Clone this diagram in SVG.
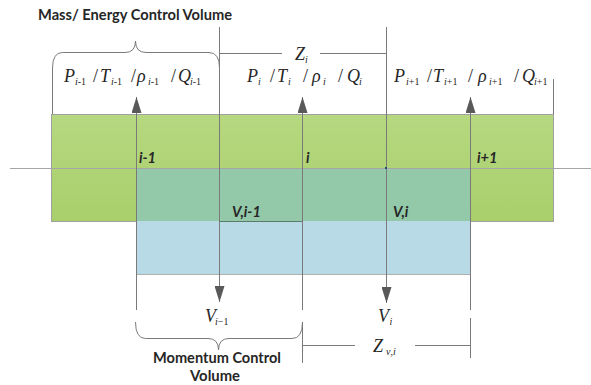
<svg xmlns="http://www.w3.org/2000/svg" width="591" height="385" viewBox="0 0 591 385">
<style>
.ln{stroke:#7a7a7a;stroke-width:1;fill:none}
.ax{stroke:#a6a6a6;stroke-width:1;fill:none}
.ttl{font-family:Lato,"Liberation Sans",Arial,sans-serif;font-weight:bold;font-size:14.5px;fill:#262626}
.lbl{font-family:Lato,"Liberation Sans",Arial,sans-serif;font-weight:bold;font-style:italic;font-size:14.5px;fill:#262626}
.m{font-family:"Liberation Serif","Times New Roman",serif;font-style:italic;font-size:18px;fill:#262626}
.s{font-style:italic;font-size:10px}
.n{font-style:normal}
</style>
<defs>
<linearGradient id="gr" x1="0" y1="0" x2="0" y2="1">
<stop offset="0" stop-color="#b6d880"/>
<stop offset="1" stop-color="#a8cf6b"/>
</linearGradient>
<marker id="ah" viewBox="0 0 16 10" refX="16" refY="5" markerWidth="16" markerHeight="10" markerUnits="userSpaceOnUse" orient="auto">
<path d="M0,0 L16,5 L0,10 Z" fill="#595959"/>
</marker>
</defs>
<g id="title"><text class="ttl" x="38" y="20" textLength="194" lengthAdjust="spacingAndGlyphs">Mass/ Energy Control Volume</text></g>
<g id="mass-cv">
<rect x="51.5" y="114.5" width="502" height="107" fill="url(#gr)" stroke="#a0a0a0" stroke-width="1"/>
</g>
<g id="momentum-cv">
<rect x="136.5" y="168.5" width="334" height="106" fill="#b7dae6" stroke="#b0b0b0" stroke-width="1"/>
<rect x="137" y="169" width="333" height="52" fill="#93c9a9"/>
</g>
<g id="connectors">
<line class="ax" x1="10" y1="168.5" x2="591" y2="168.5"/>
<line class="ln" x1="52.5" y1="68" x2="52.5" y2="114"/>
<line class="ln" x1="219.5" y1="27" x2="219.5" y2="302" marker-end="url(#ah)"/>
<line class="ln" x1="386.5" y1="27" x2="386.5" y2="303" marker-end="url(#ah)"/>
<line class="ln" x1="553.5" y1="79" x2="553.5" y2="114"/>
<line class="ln" x1="136.5" y1="310" x2="136.5" y2="97" marker-end="url(#ah)"/>
<line class="ln" x1="302.5" y1="310" x2="302.5" y2="97" marker-end="url(#ah)"/>
<line class="ln" x1="470.5" y1="310" x2="470.5" y2="97" marker-end="url(#ah)"/>
<line class="ln" x1="302.5" y1="322" x2="302.5" y2="363"/>
<line class="ln" x1="470.5" y1="318" x2="470.5" y2="358"/>
<line class="ln" x1="219" y1="53.5" x2="282" y2="53.5"/>
<line class="ln" x1="320" y1="53.5" x2="386" y2="53.5"/>
<line class="ln" x1="302" y1="345.5" x2="355" y2="345.5"/>
<line class="ln" x1="415" y1="345.5" x2="470" y2="345.5"/>
<line x1="219" y1="221.5" x2="302" y2="221.5" stroke="#5a7a6a" stroke-width="1"/>
<path class="ln" d="M52.5,68 Q52.5,52.5 62.5,52.5 L125,52.5 Q135.5,52.5 135.5,41 Q135.5,52.5 146,52.5 L209,52.5 Q219.5,52.5 219.5,68"/>
<path class="ln" d="M135.5,322 Q135.5,338.5 145.5,338.5 L208,338.5 Q218.5,338.5 218.5,350 Q218.5,338.5 229,338.5 L292,338.5 Q302.5,338.5 302.5,322"/>
<rect x="385" y="167" width="2" height="2" fill="#1f4e79"/>
</g>
<g id="labels">
<text class="lbl" x="139" y="163">i-1</text>
<text class="lbl" x="306" y="163">i</text>
<text class="lbl" x="477" y="163">i+1</text>
<text class="lbl" x="232" y="217">V,i-1</text>
<text class="lbl" x="393" y="217">V,i</text>
</g>
<g id="state-left">
<text class="m" y="82"><tspan x="64">P</tspan><tspan class="s" x="75" y="85">i<tspan class="n">-1</tspan></tspan><tspan class="n" x="93" y="82">/</tspan><tspan x="100">T</tspan><tspan class="s" x="111" y="85">i<tspan class="n">-1</tspan></tspan><tspan class="n" x="131" y="82">/</tspan><tspan x="137">ρ</tspan><tspan class="s" x="148" y="85">i<tspan class="n">-1</tspan></tspan><tspan class="n" x="171" y="82">/</tspan><tspan x="178">Q</tspan><tspan class="s" x="190" y="85">i<tspan class="n">-1</tspan></tspan></text>
</g>
<g id="state-mid">
<text class="m" y="82"><tspan x="247">P</tspan><tspan class="s" x="258" y="85">i</tspan><tspan class="n" x="270" y="82">/</tspan><tspan x="277">T</tspan><tspan class="s" x="288" y="85">i</tspan><tspan class="n" x="303" y="82">/</tspan><tspan x="312">ρ</tspan><tspan class="s" x="323" y="85">i</tspan><tspan class="n" x="338" y="82">/</tspan><tspan x="347">Q</tspan><tspan class="s" x="359" y="85">i</tspan></text>
</g>
<g id="state-right">
<text class="m" y="82"><tspan x="394">P</tspan><tspan class="s" x="406" y="85">i<tspan class="n">+1</tspan></tspan><tspan class="n" x="427" y="82">/</tspan><tspan x="433">T</tspan><tspan class="s" x="444" y="85">i<tspan class="n">+1</tspan></tspan><tspan class="n" x="468" y="82">/</tspan><tspan x="478">ρ</tspan><tspan class="s" x="489" y="85">i<tspan class="n">+1</tspan></tspan><tspan class="n" x="514" y="82">/</tspan><tspan x="522">Q</tspan><tspan class="s" x="534" y="85">i<tspan class="n">+1</tspan></tspan></text>
</g>
<g id="dims">
<text class="m" font-size="15" y="60"><tspan x="295">Z</tspan><tspan class="s" font-size="9" x="305" y="63">i</tspan></text>
<text class="m" font-size="17" y="352"><tspan x="373">Z</tspan><tspan class="s" font-size="9" x="386" y="355">v<tspan class="n">,</tspan>i</tspan></text>
<text class="m" font-size="13" y="322"><tspan x="205">V</tspan><tspan class="s" font-size="8" x="215" y="325">i<tspan class="n">−1</tspan></tspan></text>
<text class="m" font-size="13" y="322"><tspan x="378">V</tspan><tspan class="s" font-size="8" x="389.5" y="325">i</tspan></text>
</g>
<g id="momentum-title">
<text class="ttl" x="153" y="363" textLength="128" lengthAdjust="spacingAndGlyphs">Momentum Control</text>
<text class="ttl" x="190" y="381" textLength="50" lengthAdjust="spacingAndGlyphs">Volume</text>
</g>
</svg>
